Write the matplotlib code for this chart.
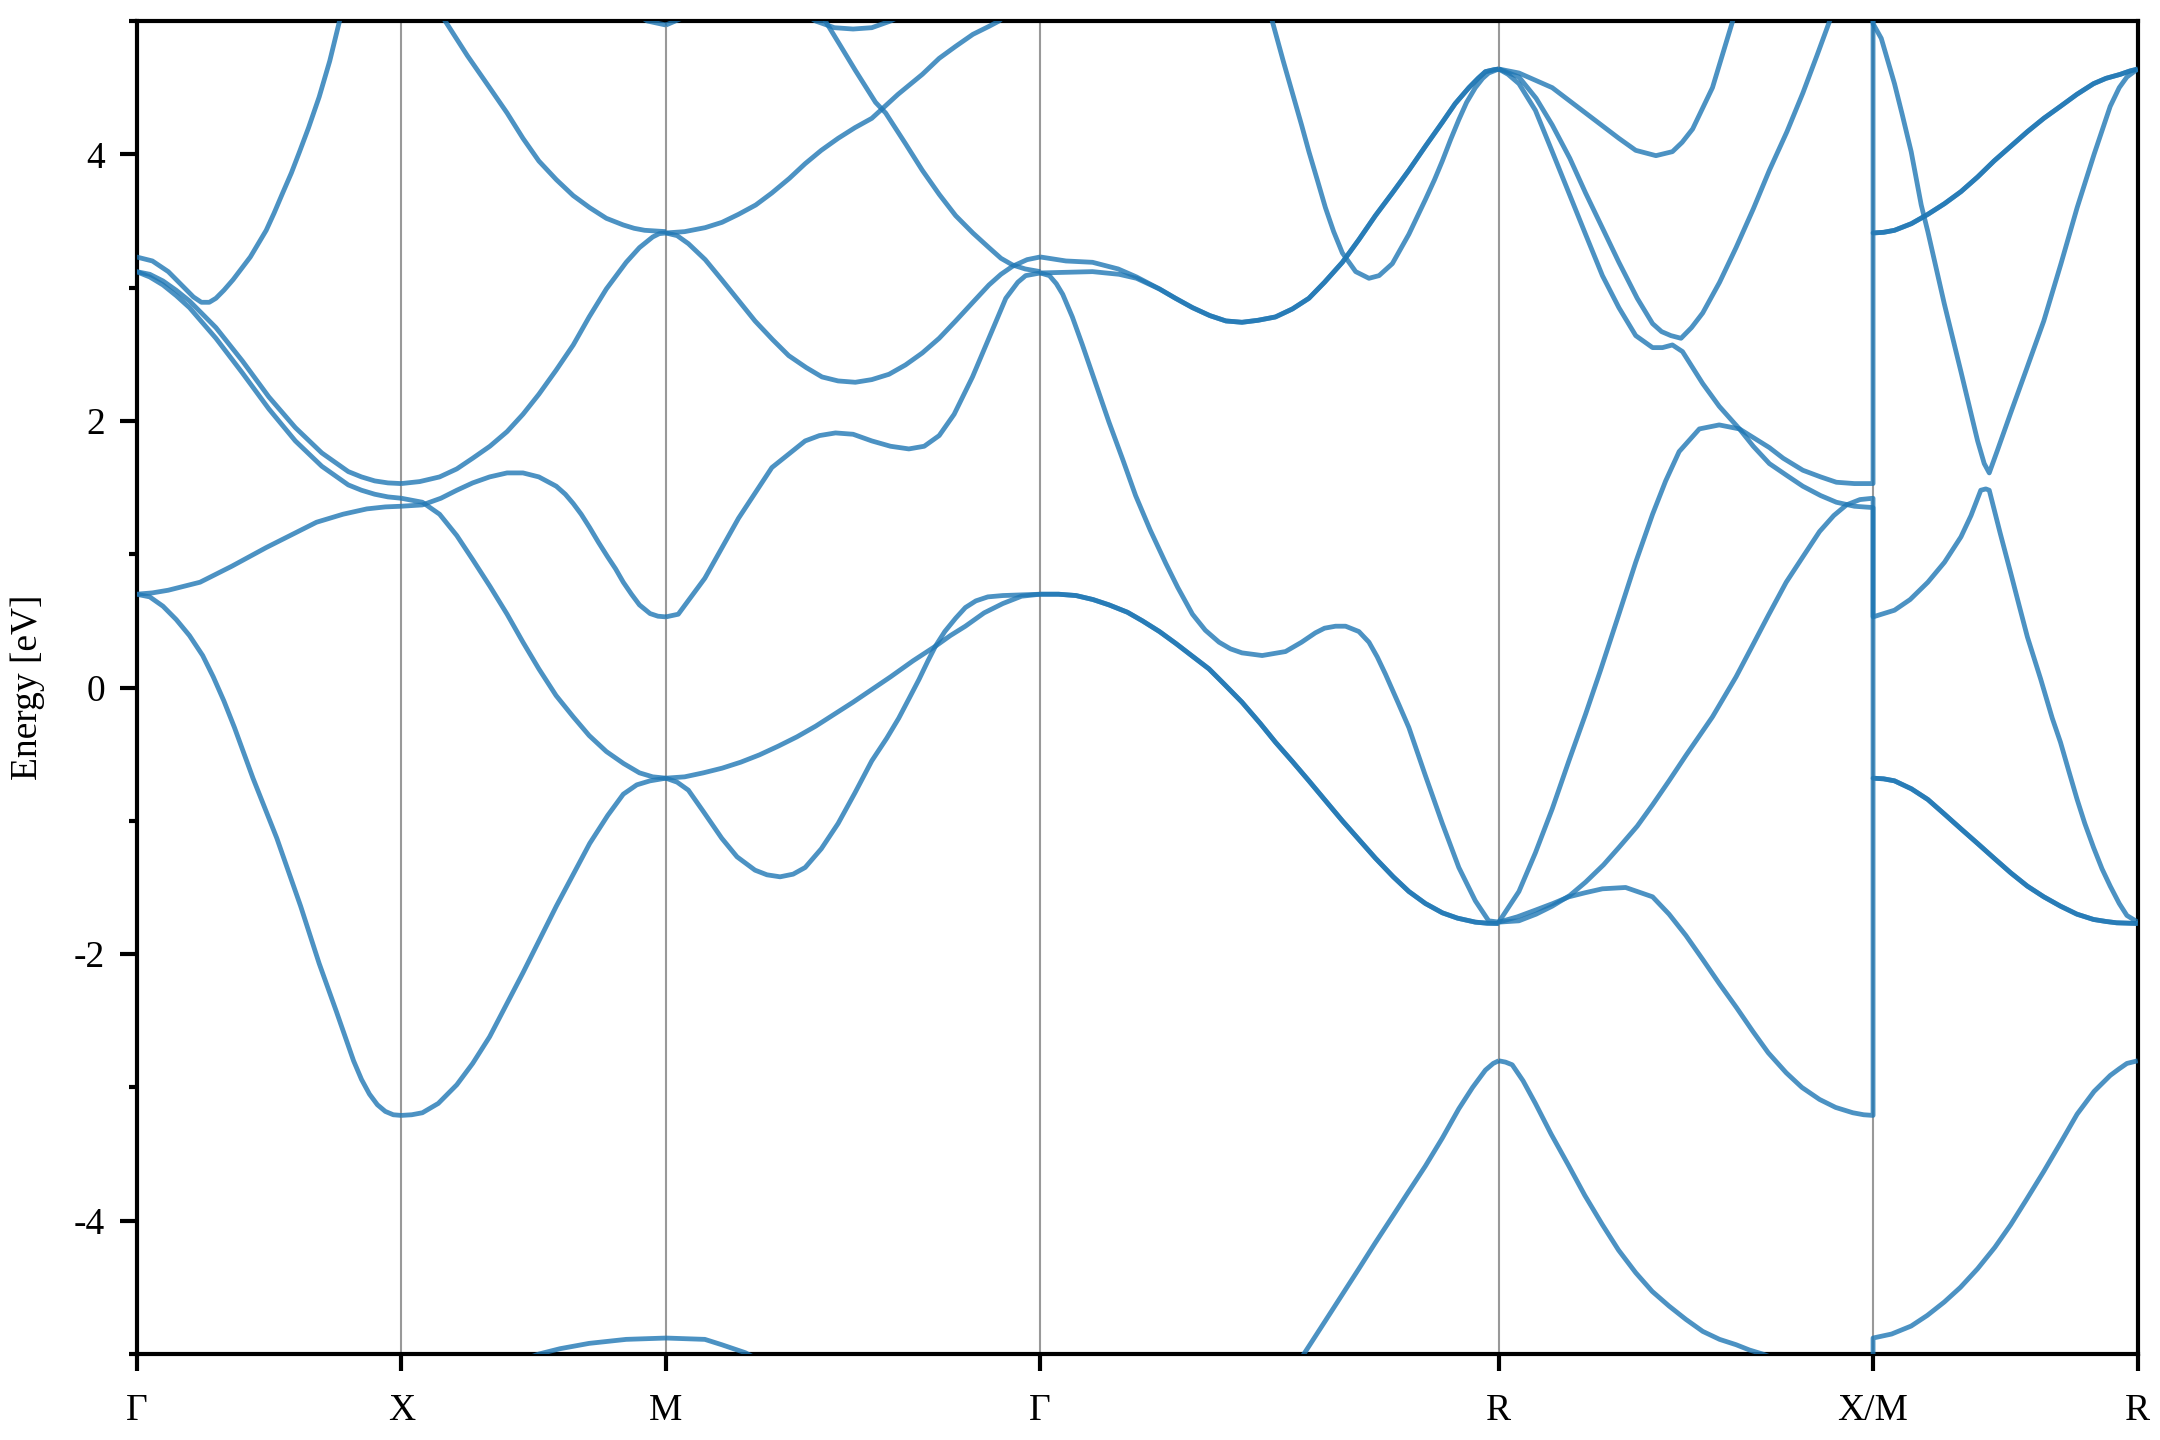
import numpy as np
import matplotlib
matplotlib.use('Agg')
import matplotlib.pyplot as plt
from matplotlib.ticker import MultipleLocator

plt.rcParams['font.family'] = ['Liberation Serif', 'DejaVu Serif']
plt.rcParams['axes.unicode_minus'] = False
plt.rcParams['font.size'] = 9

# high-symmetry path (simple cubic zone), lengths in units of 2*pi/a
labels = ['Γ', 'X', 'M', 'Γ', 'R', 'X/M', 'R']
seg_len = [0.5, 0.5, np.sqrt(2) / 2, np.sqrt(3) / 2, np.sqrt(2) / 2, 0.5]
nodes = np.concatenate([[0], np.cumsum(seg_len)])

# band pieces per segment: (fraction along the segment, energy in eV)
G_X = [
    ([0, 0.05, 0.1, 0.15, 0.2, 0.25, 0.29, 0.33, 0.37, 0.44, 0.53, 0.62, 0.69, 0.755, 0.82, 0.85, 0.88, 0.91, 0.94, 0.97, 1.0],
     [0.70, 0.68, 0.61, 0.51, 0.39, 0.24, 0.08, -0.10, -0.30, -0.68, -1.13, -1.64, -2.07, -2.43, -2.80, -2.94, -3.05, -3.13, -3.18, -3.205, -3.21]),
    ([0, 0.06, 0.12, 0.24, 0.36, 0.49, 0.6, 0.68, 0.78, 0.87, 0.94, 1.0],
     [0.70, 0.71, 0.73, 0.79, 0.91, 1.05, 1.16, 1.24, 1.30, 1.34, 1.355, 1.36]),
    ([0, 0.05, 0.1, 0.15, 0.2, 0.3, 0.4, 0.5, 0.6, 0.7, 0.8, 0.85, 0.9, 0.95, 1.0],
     [3.12, 3.10, 3.05, 2.98, 2.90, 2.70, 2.45, 2.18, 1.95, 1.76, 1.62, 1.58, 1.55, 1.535, 1.53]),
    ([0, 0.05, 0.1, 0.15, 0.2, 0.3, 0.4, 0.5, 0.6, 0.7, 0.8, 0.85, 0.9, 0.95, 1.0],
     [3.12, 3.08, 3.02, 2.94, 2.85, 2.62, 2.36, 2.09, 1.85, 1.66, 1.52, 1.48, 1.45, 1.43, 1.42]),
    ([0, 0.06, 0.12, 0.18, 0.215, 0.245, 0.275, 0.30, 0.33, 0.365, 0.43, 0.49, 0.52, 0.55, 0.585, 0.616, 0.65, 0.69, 0.73, 0.767, 0.82],
     [3.23, 3.20, 3.12, 3.00, 2.93, 2.89, 2.89, 2.92, 2.98, 3.06, 3.23, 3.43, 3.56, 3.70, 3.86, 4.02, 4.20, 4.43, 4.70, 5.0, 5.4]),
]

X_M = [
    ([0, 0.08, 0.15, 0.25, 0.334, 0.40, 0.46, 0.52, 0.586, 0.65, 0.712, 0.775, 0.839, 0.88, 0.92, 0.96, 1.0],
     [5.6, 5.3, 5.05, 4.74, 4.50, 4.31, 4.12, 3.95, 3.81, 3.69, 3.60, 3.52, 3.47, 3.445, 3.43, 3.425, 3.42]),
    ([0, 0.07, 0.145, 0.21, 0.27, 0.335, 0.40, 0.46, 0.52, 0.585, 0.65, 0.71, 0.775, 0.85, 0.90, 0.95, 0.975, 1.0],
     [1.53, 1.545, 1.58, 1.64, 1.72, 1.81, 1.92, 2.05, 2.20, 2.38, 2.57, 2.78, 2.99, 3.19, 3.30, 3.38, 3.405, 3.41]),
    ([0, 0.08, 0.145, 0.21, 0.27, 0.335, 0.40, 0.46, 0.52, 0.585, 0.65, 0.71, 0.775, 0.84, 0.90, 0.95, 1.0],
     [1.42, 1.39, 1.30, 1.14, 0.96, 0.76, 0.55, 0.34, 0.14, -0.06, -0.22, -0.36, -0.48, -0.57, -0.64, -0.67, -0.68]),
    ([0, 0.08, 0.15, 0.21, 0.27, 0.334, 0.40, 0.46, 0.52, 0.586, 0.62, 0.65, 0.68, 0.712, 0.745, 0.78, 0.81, 0.839, 0.87, 0.90, 0.94, 0.97, 1.0],
     [1.36, 1.37, 1.42, 1.48, 1.535, 1.58, 1.61, 1.61, 1.58, 1.51, 1.45, 1.38, 1.30, 1.20, 1.09, 0.98, 0.89, 0.79, 0.70, 0.62, 0.555, 0.535, 0.53]),
    ([0, 0.04, 0.08, 0.14, 0.21, 0.27, 0.334, 0.46, 0.586, 0.712, 0.78, 0.839, 0.89, 0.94, 1.0],
     [-3.21, -3.205, -3.19, -3.12, -2.98, -2.82, -2.62, -2.14, -1.64, -1.17, -0.96, -0.80, -0.73, -0.70, -0.68]),
    ([0.3, 0.45, 0.52, 0.6, 0.71, 0.85, 1.0],
     [-5.2, -5.05, -5.0, -4.96, -4.92, -4.89, -4.88]),
    ([0.85, 0.93, 1.0], [5.1, 5.0, 4.97]),
]

M_G = [
    ([0, 0.05, 0.1], [4.97, 5.03, 5.15]),
    ([0.33, 0.40, 0.45, 0.5, 0.55, 0.6, 0.67], [5.12, 5.0, 4.95, 4.94, 4.95, 5.0, 5.1]),
    ([0.38, 0.426, 0.465, 0.506, 0.56, 0.587, 0.64, 0.685, 0.73, 0.774, 0.82, 0.863, 0.895, 0.926, 0.96, 1.0],
     [5.2, 5.0, 4.82, 4.63, 4.39, 4.31, 4.08, 3.88, 3.70, 3.54, 3.41, 3.30, 3.22, 3.17, 3.14, 3.12]),
    ([0, 0.05, 0.105, 0.15, 0.194, 0.24, 0.283, 0.33, 0.372, 0.415, 0.46, 0.505, 0.55, 0.62, 0.685, 0.73, 0.774, 0.82, 0.863, 0.89, 0.95],
     [3.41, 3.42, 3.45, 3.49, 3.55, 3.62, 3.71, 3.82, 3.93, 4.03, 4.12, 4.20, 4.27, 4.45, 4.60, 4.72, 4.81, 4.90, 4.96, 5.0, 5.15]),
    ([0, 0.03, 0.06, 0.105, 0.149, 0.195, 0.238, 0.285, 0.328, 0.375, 0.417, 0.46, 0.506, 0.55, 0.596, 0.64, 0.685,
      0.73, 0.774, 0.82, 0.863, 0.895, 0.926, 0.965, 1.0],
     [3.41, 3.39, 3.33, 3.21, 3.06, 2.90, 2.75, 2.61, 2.49, 2.40, 2.33, 2.30, 2.29, 2.31, 2.35, 2.42, 2.51,
      2.62, 2.75, 2.89, 3.02, 3.10, 3.16, 3.21, 3.23]),
    ([0, 0.033, 0.104, 0.194, 0.283, 0.372, 0.41, 0.453, 0.50, 0.55, 0.60, 0.649, 0.69, 0.73, 0.77, 0.819, 0.908, 0.94, 0.961, 1.0],
     [0.53, 0.55, 0.82, 1.27, 1.65, 1.85, 1.89, 1.91, 1.90, 1.85, 1.81, 1.79, 1.81, 1.89, 2.05, 2.33, 2.92, 3.04, 3.09, 3.11]),
    ([0, 0.03, 0.06, 0.10, 0.149, 0.19, 0.238, 0.27, 0.305, 0.34, 0.372, 0.415, 0.46, 0.505, 0.55, 0.59, 0.622,
      0.65, 0.676, 0.70, 0.72, 0.745, 0.774, 0.80, 0.828, 0.86, 0.9, 1.0],
     [-0.68, -0.71, -0.77, -0.93, -1.13, -1.27, -1.37, -1.405, -1.42, -1.40, -1.35, -1.21, -1.02, -0.79, -0.55, -0.38, -0.23,
      -0.08, 0.06, 0.20, 0.31, 0.42, 0.52, 0.60, 0.65, 0.68, 0.69, 0.70]),
    ([0, 0.05, 0.1, 0.15, 0.2, 0.25, 0.3, 0.35, 0.4, 0.45, 0.5, 0.55, 0.6, 0.66, 0.72, 0.76, 0.8, 0.85, 0.9, 0.95, 1.0],
     [-0.68, -0.67, -0.64, -0.605, -0.56, -0.505, -0.44, -0.37, -0.29, -0.20, -0.11, -0.015, 0.08, 0.20, 0.31, 0.39, 0.46, 0.56, 0.63, 0.685, 0.70]),
    ([0, 0.104, 0.149, 0.212, 0.3], [-4.88, -4.89, -4.93, -4.99, -5.12]),
]

# the two nearly degenerate bands that merge after leaving Gamma
gr_t_dbl = [0.26, 0.295, 0.332, 0.37, 0.405, 0.44, 0.475, 0.513, 0.55, 0.586, 0.62, 0.659, 0.695, 0.731,
            0.768, 0.804, 0.84, 0.877, 0.905, 0.935, 0.955, 0.971, 0.99, 1.0]
gr_e_dbl = [2.99, 2.92, 2.85, 2.79, 2.75, 2.74, 2.755, 2.78, 2.84, 2.92, 3.04, 3.19, 3.36, 3.54,
            3.71, 3.88, 4.06, 4.24, 4.38, 4.50, 4.57, 4.62, 4.635, 4.64]
gr_t_low = [0, 0.04, 0.078, 0.115, 0.15, 0.19, 0.223, 0.26, 0.296, 0.33, 0.368, 0.40, 0.44, 0.48, 0.513,
            0.55, 0.586, 0.62, 0.659, 0.695, 0.731, 0.77, 0.804, 0.84, 0.877, 0.91, 0.949, 0.975, 1.0]
gr_e_low = [0.70, 0.70, 0.69, 0.66, 0.62, 0.565, 0.50, 0.42, 0.33, 0.24, 0.14, 0.03, -0.11, -0.27, -0.41,
            -0.555, -0.70, -0.84, -1.00, -1.14, -1.28, -1.42, -1.53, -1.62, -1.69, -1.73, -1.76, -1.768, -1.77]
G_R = [
    ([0, 0.056, 0.114, 0.17, 0.21] + gr_t_dbl, [3.23, 3.20, 3.19, 3.14, 3.08] + gr_e_dbl),
    ([0, 0.114, 0.172, 0.21] + gr_t_dbl, [3.11, 3.12, 3.10, 3.07] + gr_e_dbl),
    ([0, 0.02, 0.035, 0.049, 0.07, 0.092, 0.12, 0.15, 0.18, 0.208, 0.24, 0.274, 0.30, 0.332, 0.36, 0.39, 0.415, 0.44,
      0.484, 0.535, 0.57, 0.6, 0.62, 0.644, 0.666, 0.695, 0.717, 0.735, 0.753, 0.78, 0.804, 0.84, 0.877, 0.913,
      0.949, 0.978, 1.0],
     [3.11, 3.09, 3.03, 2.95, 2.78, 2.57, 2.29, 1.99, 1.71, 1.44, 1.18, 0.93, 0.75, 0.55, 0.43, 0.34, 0.29, 0.26,
      0.24, 0.27, 0.34, 0.41, 0.445, 0.46, 0.46, 0.42, 0.34, 0.23, 0.10, -0.11, -0.30, -0.66, -1.02, -1.35,
      -1.60, -1.75, -1.76]),
    ([0.48, 0.506, 0.53, 0.55, 0.57, 0.586, 0.605, 0.622, 0.64, 0.659, 0.688, 0.717, 0.739, 0.768, 0.804, 0.84,
      0.86, 0.877, 0.895, 0.913, 0.93, 0.949, 0.965, 0.978, 1.0],
     [5.3, 5.0, 4.70, 4.46, 4.22, 4.02, 3.80, 3.60, 3.42, 3.26, 3.12, 3.07, 3.09, 3.18, 3.40, 3.66,
      3.81, 3.95, 4.11, 4.26, 4.39, 4.50, 4.57, 4.61, 4.64]),
    (gr_t_low, gr_e_low),
    (gr_t_low, gr_e_low),
    ([0.5, 0.575, 0.622, 0.695, 0.73, 0.768, 0.80, 0.84, 0.877, 0.913, 0.943, 0.971, 0.988, 1.0],
     [-5.4, -5.0, -4.75, -4.36, -4.17, -3.97, -3.80, -3.59, -3.38, -3.16, -3.00, -2.87, -2.82, -2.80]),
]

R_X = [
    ([0, 0.054, 0.143, 0.232, 0.321, 0.366, 0.42, 0.464, 0.49, 0.518, 0.571, 0.625, 0.68, 1.0],
     [4.64, 4.61, 4.50, 4.31, 4.12, 4.03, 3.99, 4.02, 4.09, 4.19, 4.50, 5.0, 5.5, 7.0]),
    ([0, 0.054, 0.1, 0.143, 0.19, 0.232, 0.28, 0.321, 0.37, 0.411, 0.435, 0.46, 0.487, 0.515, 0.545, 0.59,
      0.634, 0.68, 0.723, 0.77, 0.8125, 0.85, 0.884, 0.95, 1.0],
     [4.64, 4.58, 4.42, 4.22, 3.97, 3.71, 3.43, 3.19, 2.92, 2.73, 2.67, 2.64, 2.62, 2.70, 2.81, 3.04,
      3.30, 3.59, 3.88, 4.17, 4.46, 4.74, 5.0, 5.45, 5.7]),
    ([0, 0.025, 0.054, 0.098, 0.143, 0.1875, 0.232, 0.277, 0.321, 0.366, 0.411, 0.4375, 0.464, 0.491, 0.545,
      0.589, 0.643, 0.68, 0.723, 0.77, 0.8125, 0.86, 0.902, 0.95, 1.0],
     [4.64, 4.60, 4.53, 4.33, 4.02, 3.71, 3.40, 3.09, 2.85, 2.64, 2.55, 2.55, 2.57, 2.52, 2.28,
      2.11, 1.94, 1.81, 1.68, 1.59, 1.51, 1.44, 1.39, 1.36, 1.35]),
    ([0, 0.054, 0.098, 0.143, 0.1875, 0.232, 0.272, 0.321, 0.366, 0.411, 0.446, 0.482, 0.536, 0.589,
      0.643, 0.723, 0.76, 0.8125, 0.86, 0.902, 0.95, 1.0],
     [-1.76, -1.53, -1.24, -0.91, -0.55, -0.20, 0.13, 0.55, 0.94, 1.30, 1.55, 1.77, 1.94, 1.97,
      1.94, 1.80, 1.72, 1.63, 1.58, 1.54, 1.53, 1.53]),
    ([0, 0.054, 0.1, 0.143, 0.19, 0.232, 0.28, 0.321, 0.37, 0.411, 0.455, 0.5, 0.571, 0.634, 0.679, 0.72,
      0.768, 0.81, 0.857, 0.895, 0.929, 0.965, 1.0],
     [-1.76, -1.75, -1.70, -1.64, -1.56, -1.46, -1.33, -1.20, -1.04, -0.88, -0.70, -0.51, -0.22, 0.08, 0.32, 0.54,
      0.79, 0.97, 1.17, 1.29, 1.37, 1.41, 1.42]),
    ([0, 0.05, 0.098, 0.145, 0.1875, 0.23, 0.277, 0.339, 0.411, 0.455, 0.5, 0.545, 0.589, 0.635, 0.679, 0.72,
      0.768, 0.81, 0.857, 0.9, 0.946, 0.975, 1.0],
     [-1.76, -1.72, -1.67, -1.62, -1.57, -1.54, -1.51, -1.50, -1.57, -1.70, -1.86, -2.04, -2.22, -2.40, -2.58, -2.74,
      -2.89, -3.00, -3.09, -3.15, -3.19, -3.205, -3.21]),
    ([0, 0.018, 0.036, 0.065, 0.098, 0.14, 0.1875, 0.23, 0.277, 0.32, 0.366, 0.41, 0.455, 0.50, 0.545, 0.59,
      0.634, 0.67, 0.705, 0.8, 0.9, 1.0],
     [-2.80, -2.81, -2.83, -2.95, -3.12, -3.35, -3.59, -3.81, -4.03, -4.22, -4.39, -4.53, -4.64, -4.74, -4.83, -4.89,
      -4.93, -4.97, -5.0, -5.1, -5.2, -5.25]),
]

mr_t_up = [0, 0.04, 0.081, 0.145, 0.207, 0.27, 0.332, 0.395, 0.457, 0.52, 0.583, 0.645, 0.708, 0.77, 0.833, 0.88, 0.934, 0.97, 1.0]
mr_e_up = [3.41, 3.415, 3.43, 3.48, 3.55, 3.63, 3.72, 3.83, 3.95, 4.06, 4.17, 4.27, 4.36, 4.45, 4.53, 4.57, 4.60, 4.625, 4.64]
mr_t_dn = [0, 0.04, 0.081, 0.145, 0.207, 0.27, 0.332, 0.395, 0.457, 0.52, 0.583, 0.645, 0.708, 0.77, 0.833, 0.88, 0.92, 1.0]
mr_e_dn = [-0.68, -0.685, -0.70, -0.76, -0.84, -0.95, -1.06, -1.17, -1.28, -1.39, -1.49, -1.57, -1.64, -1.70, -1.74, -1.755, -1.765, -1.77]
M_R = [
    (mr_t_up, mr_e_up),
    (mr_t_up, mr_e_up),
    ([0, 0.031, 0.081, 0.11, 0.144, 0.182, 0.207, 0.269, 0.332, 0.395, 0.42, 0.439, 0.47, 0.52, 0.58, 0.645,
      0.71, 0.771, 0.835, 0.896, 0.93, 0.959, 1.0],
     [4.98, 4.87, 4.53, 4.30, 4.02, 3.62, 3.42, 2.88, 2.37, 1.85, 1.68, 1.61, 1.78, 2.06, 2.39, 2.75,
      3.18, 3.60, 4.00, 4.36, 4.50, 4.58, 4.64]),
    ([0, 0.081, 0.14, 0.207, 0.27, 0.332, 0.37, 0.407, 0.426, 0.439, 0.48, 0.52, 0.55, 0.583, 0.633, 0.677,
      0.708, 0.74, 0.771, 0.80, 0.833, 0.865, 0.896, 0.93, 0.959, 1.0],
     [0.53, 0.58, 0.66, 0.79, 0.94, 1.13, 1.29, 1.48, 1.49, 1.48, 1.16, 0.86, 0.63, 0.38, 0.065, -0.23,
      -0.41, -0.63, -0.84, -1.02, -1.20, -1.36, -1.49, -1.62, -1.71, -1.76]),
    (mr_t_dn, mr_e_dn),
    (mr_t_dn, mr_e_dn),
    ([0, 0.07, 0.144, 0.205, 0.269, 0.33, 0.395, 0.46, 0.52, 0.58, 0.645, 0.71, 0.771, 0.835, 0.896, 0.93, 0.959, 1.0],
     [-4.88, -4.85, -4.79, -4.71, -4.61, -4.50, -4.36, -4.20, -4.03, -3.84, -3.63, -3.41, -3.20, -3.03, -2.91, -2.86, -2.82, -2.80]),
]


def to_k(seg, t):
    return nodes[seg] + np.asarray(t) * seg_len[seg]


band_kw = dict(color='tab:blue', alpha=0.8, lw=1.15, solid_capstyle='butt', solid_joinstyle='round', zorder=3)

fig = plt.figure(figsize=(7.2, 4.8), dpi=300)
ax = fig.add_axes([0.0632, 0.0597, 0.9265, 0.9257])

for x in nodes[1:-1]:
    ax.axvline(x, color='gray', lw=0.5, alpha=0.8, zorder=1)

for seg, pieces in enumerate([G_X, X_M, M_G, G_R]):
    for t, e in pieces:
        ax.plot(to_k(seg, t), e, **band_kw)

# bands run on through the X|M break, so the jump shows up as a vertical line
ends = sorted(R_X, key=lambda p: p[1][-1])
starts = sorted(M_R, key=lambda p: p[1][0])
for (t1, e1), (t2, e2) in zip(ends, starts):
    ax.plot(np.concatenate([to_k(4, t1), to_k(5, t2)]), list(e1) + list(e2), **band_kw)

ax.set_xlim(nodes[0], nodes[-1])
ax.set_ylim(-5, 5)
ax.set_xticks(nodes)
ax.set_xticklabels(labels)
ax.set_yticks([-4, -2, 0, 2, 4])
ax.yaxis.set_minor_locator(MultipleLocator(1))
ax.set_ylabel('Energy [eV]', labelpad=7)

for s in ax.spines.values():
    s.set_linewidth(1.0)
ax.tick_params(axis='both', which='major', direction='out', length=4, width=1.0,
               top=False, right=False, labelsize=9)
ax.tick_params(axis='x', pad=5.5)
ax.tick_params(axis='y', which='minor', direction='out', length=2, width=1.0, right=False)

fig.savefig('out.png', dpi=300)
